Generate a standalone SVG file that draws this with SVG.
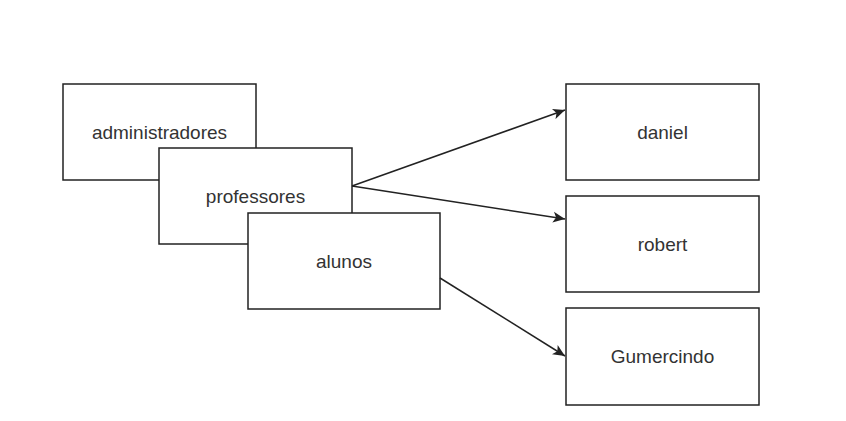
<svg xmlns="http://www.w3.org/2000/svg" width="846" height="421" viewBox="0 0 846 421">
<style>
.box{fill:#fff;stroke:#222;stroke-width:1.5}
.lbl{font-family:"Liberation Sans",Arial,sans-serif;font-size:19px;fill:#333;text-anchor:middle;dominant-baseline:central}
.edge{fill:none;stroke:#222;stroke-width:1.5}
</style>
<defs>
<marker id="arr" viewBox="0 0 10 10" refX="10" refY="5" markerWidth="12" markerHeight="12" markerUnits="userSpaceOnUse" orient="auto">
<path d="M0,0.5 L10,5 L0,9.5 L2.5,5 Z" fill="#222"/>
</marker>
</defs>
<rect width="846" height="421" fill="#fff"/>
<g id="administradores"><rect class="box" x="63" y="84" width="193" height="96"/><text class="lbl" x="159.5" y="132">administradores</text></g>
<g id="professores"><rect class="box" x="159" y="148" width="193" height="96"/><text class="lbl" x="255.5" y="196">professores</text></g>
<g id="alunos"><rect class="box" x="248" y="213" width="192" height="96"/><text class="lbl" x="344" y="261">alunos</text></g>
<g id="daniel"><rect class="box" x="566" y="84" width="193" height="96"/><text class="lbl" x="662.5" y="132">daniel</text></g>
<g id="robert"><rect class="box" x="566" y="196" width="193" height="96"/><text class="lbl" x="662.5" y="244">robert</text></g>
<g id="Gumercindo"><rect class="box" x="566" y="308" width="193" height="97"/><text class="lbl" x="662.5" y="356">Gumercindo</text></g>
<g id="connectors">
<line class="edge" x1="352" y1="186" x2="565" y2="110" marker-end="url(#arr)"/>
<line class="edge" x1="352" y1="186" x2="565" y2="219" marker-end="url(#arr)"/>
<line class="edge" x1="440" y1="278" x2="565" y2="356" marker-end="url(#arr)"/>
</g>
</svg>
